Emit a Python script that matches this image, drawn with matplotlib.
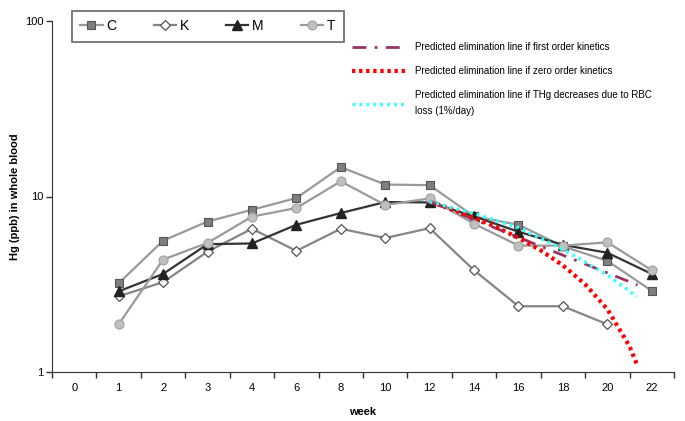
import numpy as np
import matplotlib
matplotlib.use('Agg')
import matplotlib.pyplot as plt
from matplotlib import font_manager

installed = set(f.name for f in font_manager.fontManager.ttflist)
narrow = 'Liberation Sans Narrow' if 'Liberation Sans Narrow' in installed else 'Liberation Sans'
plt.rcParams['font.family'] = [narrow, 'DejaVu Sans']

# Data (Hg ppb in whole blood)
week_labels = ['0', '1', '2', '3', '4', '6', '8', '10', '12', '14', '16', '18', '20', '22']
weeks = [0, 1, 2, 3, 4, 6, 8, 10, 12, 14, 16, 18, 20, 22]

weeks_C = [1, 2, 3, 4, 6, 8, 10, 12, 14, 16, 18, 20, 22]
hg_C = [3.2, 5.6, 7.2, 8.4, 9.8, 14.7, 11.7, 11.6, 7.7, 6.9, 5.2, 4.3, 2.9]

weeks_K = [1, 2, 3, 4, 6, 8, 10, 12, 14, 16, 18, 20]
hg_K = [2.7, 3.25, 4.85, 6.55, 4.9, 6.55, 5.8, 6.6, 3.8, 2.37, 2.37, 1.87]

weeks_M = [1, 2, 3, 4, 6, 8, 10, 12, 14, 16, 18, 20, 22]
hg_M = [2.88, 3.62, 5.35, 5.4, 6.9, 8.05, 9.3, 9.25, 7.7, 6.3, 5.3, 4.78, 3.62]

weeks_T = [1, 2, 3, 4, 6, 8, 10, 12, 14, 16, 18, 20, 22]
hg_T = [1.87, 4.37, 5.44, 7.68, 8.6, 12.2, 8.95, 9.75, 7.0, 5.25, 5.25, 5.48, 3.8]

# Predicted elimination lines
weeks_first = [12, 14, 16, 18, 20, 21.36]
pred_first = [9.34, 7.39, 5.85, 4.63, 3.67, 3.13]

weeks_zero = [12, 13, 14, 15, 16, 17, 18, 19, 20, 21, 21.36]
pred_zero = [9.34, 8.46, 7.57, 6.69, 5.81, 4.93, 4.05, 3.16, 2.28, 1.40, 1.08]

weeks_rbc = [12, 14, 16, 18, 20, 21.33]
pred_rbc = [9.34, 8.0, 6.65, 5.0, 3.57, 2.69]

pos = np.arange(len(weeks))


def xpos(w):
    return np.interp(w, weeks, pos)


fig = plt.figure(figsize=(6.85, 4.21), dpi=100)
ax = fig.add_axes([52 / 685, 49 / 421, 622 / 685, 351 / 421])

hC, = ax.plot(xpos(weeks_C), hg_C, color='#999999', lw=1.6, marker='s', ms=6,
              mfc='#7f7f7f', mec='#555555', mew=0.8, label='C')
hK, = ax.plot(xpos(weeks_K), hg_K, color='#858585', lw=1.6, marker='D', ms=5.5,
              mfc='white', mec='#555555', mew=0.9, label='K')
hM, = ax.plot(xpos(weeks_M), hg_M, color='#333333', lw=1.6, marker='^', ms=7,
              mfc='#222222', mec='#222222', label='M')
hT, = ax.plot(xpos(weeks_T), hg_T, color='#9a9a9a', lw=1.6, marker='o', ms=6.5,
              mfc='#c0c0c0', mec='#a0a0a0', mew=0.8, label='T')

p1, = ax.plot(xpos(weeks_first), pred_first, color='#993366', lw=2,
              dashes=(5, 3, 1, 3), label='Predicted elimination line if first order kinetics')
p2, = ax.plot(xpos(weeks_zero), pred_zero, color='#ff0000', lw=3,
              dashes=(0.8, 0.9), label='Predicted elimination line if zero order kinetics')
p3, = ax.plot(xpos(weeks_rbc), pred_rbc, color='#33ffff', lw=2.5,
              dashes=(0.8, 1.2),
              label='Predicted elimination line if THg decreases due to RBC\nloss (1%/day)')

ax.set_yscale('log')
ax.set_ylim(1, 100)
ax.set_yticks([1, 10, 100])
ax.set_yticklabels(['1', '10', '100'])
ax.yaxis.set_minor_locator(matplotlib.ticker.NullLocator())

ax.set_xlim(-0.5, len(weeks) - 0.5)
ax.set_xticks(np.arange(-0.5, len(weeks), 1))
ax.set_xticklabels([])
ax.set_xticks(pos, minor=True)
ax.set_xticklabels(week_labels, minor=True)
ax.tick_params(axis='x', which='minor', length=0, pad=8, labelsize=8)
ax.tick_params(axis='x', which='major', length=4, width=1, color='#333333')
ax.tick_params(axis='y', length=4, width=1, color='#333333', labelsize=8, pad=2)

for s in ['top', 'right']:
    ax.spines[s].set_visible(False)
for s in ['left', 'bottom']:
    ax.spines[s].set_color('#333333')

ax.set_xlabel('week', fontsize=8, fontweight='bold', labelpad=10)
ax.set_ylabel('Hg (ppb) in whole blood', fontsize=8, fontweight='bold')
ax.yaxis.set_label_coords(-32 / 622, 0.5)

leg1 = ax.legend(handles=[hC, hK, hM, hT], ncol=4, loc='upper left',
                 bbox_to_anchor=(72 / 685, 1 - 11 / 421), bbox_transform=fig.transFigure,
                 fontsize=10, frameon=True, fancybox=False, edgecolor='#404040',
                 handlelength=1.6, handletextpad=0.3, columnspacing=2.65,
                 borderpad=0.6, borderaxespad=0)
leg1.get_frame().set_linewidth(1.2)
ax.add_artist(leg1)

leg2 = ax.legend(handles=[p1, p2, p3], loc='upper left',
                 bbox_to_anchor=(352 / 685, 1 - 42 / 421), bbox_transform=fig.transFigure,
                 fontsize=7, frameon=False, handlelength=5.6, handletextpad=0.9,
                 labelspacing=1.45, borderpad=0, borderaxespad=0)
for t in leg2.get_texts():
    t.set_linespacing(1.75)

fig.savefig('out.png', dpi=100)
